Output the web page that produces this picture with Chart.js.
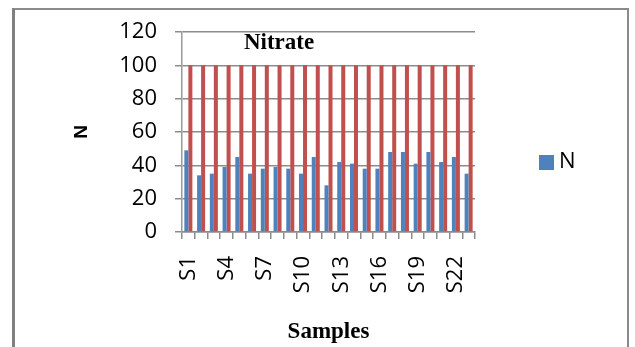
<!DOCTYPE html>
<html>
<head>
<meta charset="utf-8">
<script src="https://cdn.jsdelivr.net/npm/chart.js@4"></script>
<style>
  body { margin: 0; background: #fff; }
  #wrap { position: relative; width: 635px; height: 347px; }
  #frame {
    position: absolute; left: 12px; top: 8px; width: 612px; height: 345px;
    border-left: 3px solid #808080; border-top: 2px solid #8a8a8a; border-right: 2px solid #8a8a8a;
  }
  canvas { position: absolute; left: 0; top: 0; }
</style>
</head>
<body>
<div id="wrap">
  <div id="frame"></div>
  <canvas id="nitrateChart" width="635" height="347"></canvas>
</div>
<script>
// data
const samples = ['S1','S2','S3','S4','S5','S6','S7','S8','S9','S10','S11','S12',
                 'S13','S14','S15','S16','S17','S18','S19','S20','S21','S22','S23'];
const nValues = [49, 34, 35, 39, 45, 35, 38, 39, 38, 35, 45, 28,
                 42, 41, 38, 38, 48, 48, 41, 48, 42, 45, 35];
const limitValues = [100, 100, 100, 100, 100, 100, 100, 100, 100, 100, 100, 100,
                     100, 100, 100, 100, 100, 100, 100, 100, 100, 100, 100];
const yTicks = [0, 20, 40, 60, 80, 100, 120];

// title inside the plot and the legend box, drawn by hand
const extras = {
  id: 'extras',
  afterDraw(chart) {
    const ctx = chart.ctx;
    const ds = chart.data.datasets[0];
    ctx.save();
    ctx.fillStyle = '#000';
    ctx.font = 'bold 23px "Liberation Serif"';
    ctx.textAlign = 'center';
    ctx.textBaseline = 'middle';
    ctx.fillText('Nitrate', 279, 43);

    ctx.fillStyle = ds.backgroundColor;
    ctx.fillRect(539, 155, 15, 15);
    ctx.fillStyle = '#000';
    ctx.font = '22px "Open Sans"';
    ctx.textAlign = 'left';
    ctx.fillText(ds.label, 559, 162);
    ctx.restore();
  }
};

const ctx = document.getElementById('nitrateChart').getContext('2d');
const chart = new Chart(ctx, {
  type: 'bar',
  data: {
    labels: samples,
    datasets: [{
      label: 'N',
      data: nValues,
      backgroundColor: '#4F81BD',
      categoryPercentage: 0.63,
      barPercentage: 1
    }, {
      label: '',
      data: limitValues,
      backgroundColor: '#C0504D',
      categoryPercentage: 0.63,
      barPercentage: 1
    }]
  },
  options: {
    responsive: false,
    animation: false,
    layout: { padding: { left: 60, right: 160, top: 32, bottom: 0 } },
    plugins: {
      legend: { display: false },
      tooltip: { enabled: false }
    },
    scales: {
      x: {
        afterFit(scale) { scale.height = 115; },
        grid: {
          offset: true,
          drawOnChartArea: false,
          drawTicks: true,
          tickLength: 7,
          color: '#8c8c8c',
          lineWidth: 1.5
        },
        border: { color: '#8c8c8c', width: 1.5 },
        ticks: {
          autoSkip: false,
          maxRotation: 90,
          minRotation: 90,
          padding: 17,
          color: '#000',
          font: { family: 'Open Sans', size: 22 },
          callback: function (value, index) {
            return index % 3 === 0 ? this.getLabelForValue(value) : '';
          }
        },
        title: {
          display: true,
          text: 'Samples',
          color: '#000',
          font: { family: 'Liberation Serif', size: 23, weight: 'bold' },
          padding: { top: 0, bottom: 1 }
        }
      },
      y: {
        min: 0,
        max: 120,
        afterFit(scale) { scale.width = 122; },
        afterBuildTicks(scale) { scale.ticks = yTicks.map(v => ({ value: v })); },
        grid: {
          color: '#8c8c8c',
          lineWidth: 1.5,
          tickLength: 7
        },
        border: { color: '#9a9a9a', width: 1.5 },
        ticks: {
          padding: 18,
          color: '#000',
          font: { family: 'Open Sans', size: 22 }
        },
        title: {
          display: true,
          text: 'N',
          color: '#000',
          font: { family: 'Liberation Sans', size: 19, weight: 'bold' },
          padding: { top: 10, bottom: 0 }
        }
      }
    }
  },
  plugins: [extras]
});
</script>
</body>
</html>
